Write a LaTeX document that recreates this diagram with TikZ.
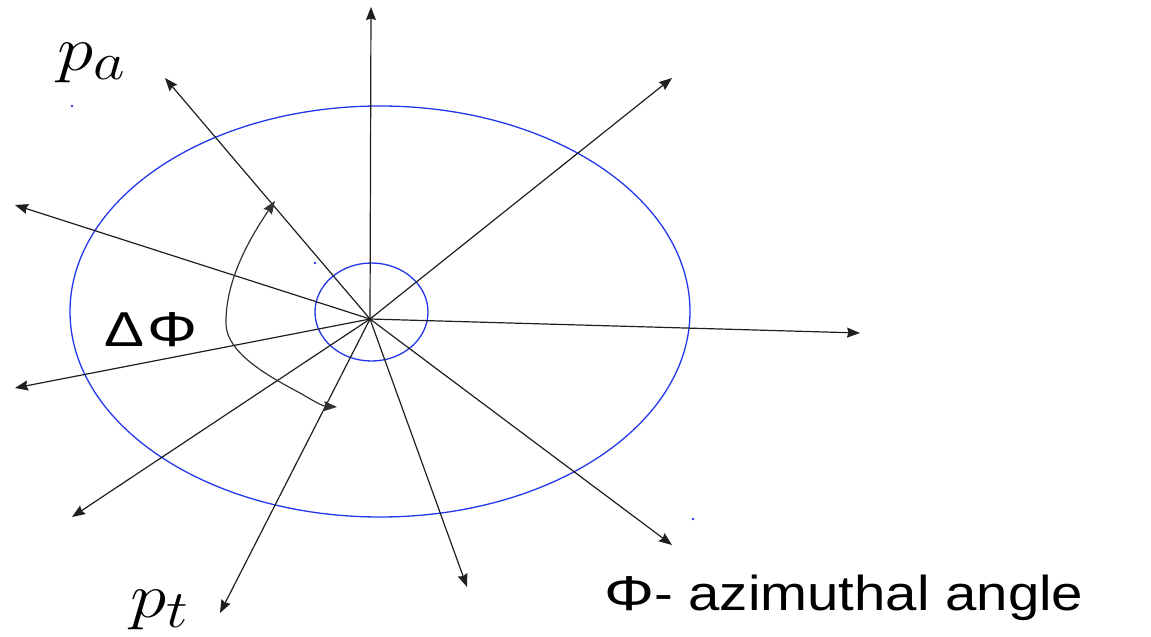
\documentclass[tikz,border=0pt]{standalone}
\usepackage{fontspec}
\newfontfamily\lsans{Liberation Sans}
\usetikzlibrary{arrows.meta}
\definecolor{ringblue}{RGB}{35,55,235}
\tikzset{
  ray/.style={line width=1.2pt, draw=black!88, -{Stealth[length=13pt,width=10pt,inset=1.5pt]}},
  anglearc/.style={line width=1.2pt, draw=black!80, {Stealth[length=13pt,width=10pt,inset=1.5pt]}-{Stealth[length=13pt,width=10pt,inset=1.5pt]}},
  ring/.style={draw=ringblue, line width=1.3pt},
  speck/.style={fill=ringblue},
  sanslabel/.style={anchor=base west, inner sep=0pt, font=\lsans\fontsize{49}{58}\selectfont},
  mathlabel/.style={anchor=base west, inner sep=0pt, font=\Huge}
}
\begin{document}
\begin{tikzpicture}[x=1pt,y=-1pt]
\useasboundingbox (0,0) rectangle (1151,637);
% rings
\draw[ring] (380,311.5) ellipse [x radius=310, y radius=205.5];
\draw[ring] (371.5,312) ellipse [x radius=56.5, y radius=49];
% stray specks
\fill[speck] (72,106) circle (1.3);
\fill[speck] (315,263) circle (1.3);
\fill[speck] (693,519) circle (1.3);
% centre and tips
\coordinate (O) at (370,319);
\coordinate (tU) at (371,7);
\coordinate (tUR) at (672,78);
\coordinate (tR) at (860,333);
\coordinate (tDR) at (672,545);
\coordinate (tD) at (467,587);
\coordinate (tPt) at (220,613);
\coordinate (tDL) at (72,517);
\coordinate (tLD) at (15,388);
\coordinate (tLU) at (15,205);
\coordinate (tPa) at (165,78);
\foreach \t in {tU,tUR,tR,tDR,tD,tPt,tDL,tLD,tLU,tPa}
  \draw[ray] (O) -- (\t);
% Delta Phi arc
\coordinate (arcA) at (275,201);
\coordinate (arcB) at (337,407);
\draw[anglearc] (arcA) .. controls (245,245) and (225,285) .. (226,325)
  .. controls (228,352) and (262,373) .. (300,393)
  .. controls (312,400) and (322,406) .. (arcB);
% labels
\node[sanslabel] (dphi) at (104,346) {\scalebox{1.22}[1]{Δ}\kern3pt\scalebox{1.28}[1]{Φ}};
\node[sanslabel] (azi) at (604,610) {\scalebox{1.28}[1]{Φ}\scalebox{1.15}[1]{- azimuthal angle}};
\node[mathlabel] (pa) at (57,70) {\scalebox{2.95}[2.55]{$p_a$}};
\node[mathlabel] (pt) at (130,617) {\scalebox{2.95}[2.55]{$p_t$}};
\end{tikzpicture}
\end{document}
